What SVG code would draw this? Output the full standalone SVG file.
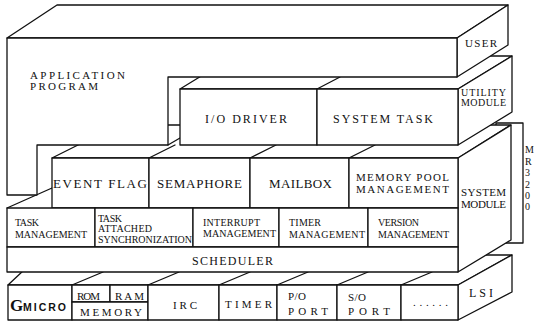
<svg xmlns="http://www.w3.org/2000/svg" width="536" height="324" viewBox="0 0 536 324" font-family="'Liberation Serif', 'Times New Roman', serif">
<style>
.f{fill:#fff;stroke:#111;stroke-width:1.3;stroke-linejoin:round}
.l{fill:none;stroke:#111;stroke-width:1.3;stroke-linecap:round}
text{font-family:'Liberation Serif','Times New Roman',serif;fill:#111}
.s10{font-size:10px}.s11{font-size:11px}.s12{font-size:12px}.s13{font-size:13px}
</style>
<rect x="0" y="0" width="536" height="324" fill="#fff"/>

<g id="side-tab">
<rect class="f" x="496" y="123" width="27" height="120"/>
<text class="s10" x="525" y="153">M</text>
<text class="s10" x="525" y="165">R</text>
<text class="s10" x="525" y="176">3</text>
<text class="s10" x="525" y="188">2</text>
<text class="s10" x="525" y="199">0</text>
<text class="s10" x="525" y="210">0</text>
</g>

<g id="lsi">
<polygon class="f" points="8,285 458,285 512,255 40,255"/>
<line class="l" x1="72" y1="285" x2="103" y2="272"/>
<line class="l" x1="148" y1="285" x2="179" y2="272"/>
<line class="l" x1="219" y1="285" x2="250" y2="272"/>
<line class="l" x1="277" y1="285" x2="308" y2="272"/>
<line class="l" x1="337" y1="285" x2="368" y2="272"/>
<line class="l" x1="401" y1="285" x2="432" y2="272"/>
<polygon class="f" points="458,285 512,255 512,292 458,320"/>
<text class="s12" x="469" y="297" textLength="24" lengthAdjust="spacing">LSI</text>
<g id="gmicro">
<rect class="f" x="8" y="285" width="64" height="35"/>
<text x="10" y="311" style="font-size:17px;font-weight:bold">G</text>
<text x="23" y="311" style="font-family:'Liberation Sans',Arial,sans-serif;font-size:10.5px;font-weight:bold" textLength="43" lengthAdjust="spacing">MICRO</text>
</g>
<g id="memory">
<rect class="f" x="72" y="285" width="38" height="17"/>
<rect class="f" x="110" y="285" width="38" height="17"/>
<rect class="f" x="72" y="302" width="76" height="18"/>
<text class="s11" x="77" y="300" textLength="23" lengthAdjust="spacing">ROM</text>
<text class="s11" x="115" y="300" textLength="29" lengthAdjust="spacing">RAM</text>
<text class="s11" x="80" y="316" textLength="62" lengthAdjust="spacing">MEMORY</text>
</g>
<g id="irc"><rect class="f" x="148" y="285" width="71" height="35"/>
<text class="s11" x="173" y="309" textLength="24" lengthAdjust="spacing">IRC</text></g>
<g id="timer"><rect class="f" x="219" y="285" width="58" height="35"/>
<text class="s11" x="225" y="308" textLength="47" lengthAdjust="spacing">TIMER</text></g>
<g id="po-port"><rect class="f" x="277" y="285" width="60" height="35"/>
<text class="s11" x="288" y="300" textLength="18" lengthAdjust="spacing">P/O</text>
<text class="s11" x="288" y="315" textLength="40" lengthAdjust="spacing">PORT</text></g>
<g id="so-port"><rect class="f" x="337" y="285" width="64" height="35"/>
<text class="s11" x="348" y="301" textLength="18" lengthAdjust="spacing">S/O</text>
<text class="s11" x="348" y="315" textLength="42" lengthAdjust="spacing">PORT</text></g>
<g id="etc"><rect class="f" x="401" y="285" width="57" height="35"/>
<text class="s11" x="413" y="306" textLength="35" lengthAdjust="spacing">......</text></g>
</g>

<g id="system-module">
<line class="l" x1="7" y1="208" x2="52" y2="188"/>
<polygon class="f" points="52,158 458,158 511,125 118,125"/>
<line class="l" x1="149" y1="158" x2="175" y2="145"/>
<line class="l" x1="250" y1="158" x2="276" y2="145"/>
<line class="l" x1="349" y1="158" x2="375" y2="145"/>
<polygon class="f" points="458,158 511,125 511,240 458,272"/>
<text class="s11" x="461" y="196" textLength="45" lengthAdjust="spacing">SYSTEM</text>
<text class="s11" x="461" y="208" textLength="45" lengthAdjust="spacing">MODULE</text>
<g id="event-flag"><rect class="f" x="52" y="158" width="97" height="50"/>
<text class="s13" x="53" y="188" textLength="94" lengthAdjust="spacing">EVENT FLAG</text></g>
<g id="semaphore"><rect class="f" x="149" y="158" width="101" height="50"/>
<text class="s13" x="157" y="188" textLength="85" lengthAdjust="spacing">SEMAPHORE</text></g>
<g id="mailbox"><rect class="f" x="250" y="158" width="99" height="50"/>
<text class="s13" x="269" y="188" textLength="63" lengthAdjust="spacing">MAILBOX</text></g>
<g id="memory-pool"><rect class="f" x="349" y="158" width="109" height="50"/>
<text class="s11" x="356" y="181" textLength="93" lengthAdjust="spacing">MEMORY POOL</text>
<text class="s11" x="356" y="193" textLength="93" lengthAdjust="spacing">MANAGEMENT</text></g>
<g id="task-mgmt"><rect class="f" x="7" y="208" width="88" height="39"/>
<text class="s10" x="15" y="226" textLength="24" lengthAdjust="spacing">TASK</text>
<text class="s10" x="15" y="238" textLength="72" lengthAdjust="spacing">MANAGEMENT</text></g>
<g id="task-sync"><rect class="f" x="95" y="208" width="98" height="39"/>
<text class="s10" x="98" y="222" textLength="24" lengthAdjust="spacing">TASK</text>
<text class="s10" x="98" y="232" textLength="54" lengthAdjust="spacing">ATTACHED</text>
<text class="s10" x="98" y="243" textLength="94" lengthAdjust="spacing">SYNCHRONIZATION</text></g>
<g id="interrupt-mgmt"><rect class="f" x="193" y="208" width="86" height="39"/>
<text class="s10" x="203" y="226" textLength="57" lengthAdjust="spacing">INTERRUPT</text>
<text class="s10" x="203" y="237" textLength="73" lengthAdjust="spacing">MANAGEMENT</text></g>
<g id="timer-mgmt"><rect class="f" x="279" y="208" width="89" height="39"/>
<text class="s10" x="289" y="226" textLength="32" lengthAdjust="spacing">TIMER</text>
<text class="s10" x="289" y="238" textLength="76" lengthAdjust="spacing">MANAGEMENT</text></g>
<g id="version-mgmt"><rect class="f" x="368" y="208" width="90" height="39"/>
<text class="s10" x="378" y="226" textLength="41" lengthAdjust="spacing">VERSION</text>
<text class="s10" x="378" y="238" textLength="71" lengthAdjust="spacing">MANAGEMENT</text></g>
<g id="scheduler"><rect class="f" x="7" y="247" width="451" height="25"/>
<text class="s12" x="192" y="265" textLength="81" lengthAdjust="spacing">SCHEDULER</text></g>
</g>

<g id="utility-module">
<polygon class="f" points="180,89 458,89 512,56 234,56"/>
<line class="l" x1="317" y1="89" x2="340" y2="77"/>
<line class="l" x1="168" y1="145" x2="180" y2="138"/>
<polygon class="f" points="458,89 512,56 512,112 458,145"/>
<text class="s10" x="461" y="96" textLength="45" lengthAdjust="spacing">UTILITY</text>
<text class="s10" x="461" y="106" textLength="45" lengthAdjust="spacing">MODULE</text>
<g id="io-driver"><rect class="f" x="180" y="89" width="137" height="56"/>
<text class="s12" x="205" y="123" textLength="82" lengthAdjust="spacing">I/O DRIVER</text></g>
<g id="system-task"><rect class="f" x="317" y="89" width="141" height="56"/>
<text class="s12" x="333" y="123" textLength="100" lengthAdjust="spacing">SYSTEM TASK</text></g>
</g>

<g id="user">
<polygon class="f" points="7,38 57,5 508,5 457,38"/>
<polygon class="f" points="457,38 508,5 508,45 457,77"/>
<text class="s11" x="465" y="47" textLength="32" lengthAdjust="spacing">USER</text>
<polygon class="f" points="7,38 457,38 457,77 168,77 168,145 37,145 37,195 7,195"/>
<text class="s11" x="30" y="79" textLength="95" lengthAdjust="spacing">APPLICATION</text>
<text class="s11" x="30" y="90" textLength="68" lengthAdjust="spacing">PROGRAM</text>
</g>
</svg>
